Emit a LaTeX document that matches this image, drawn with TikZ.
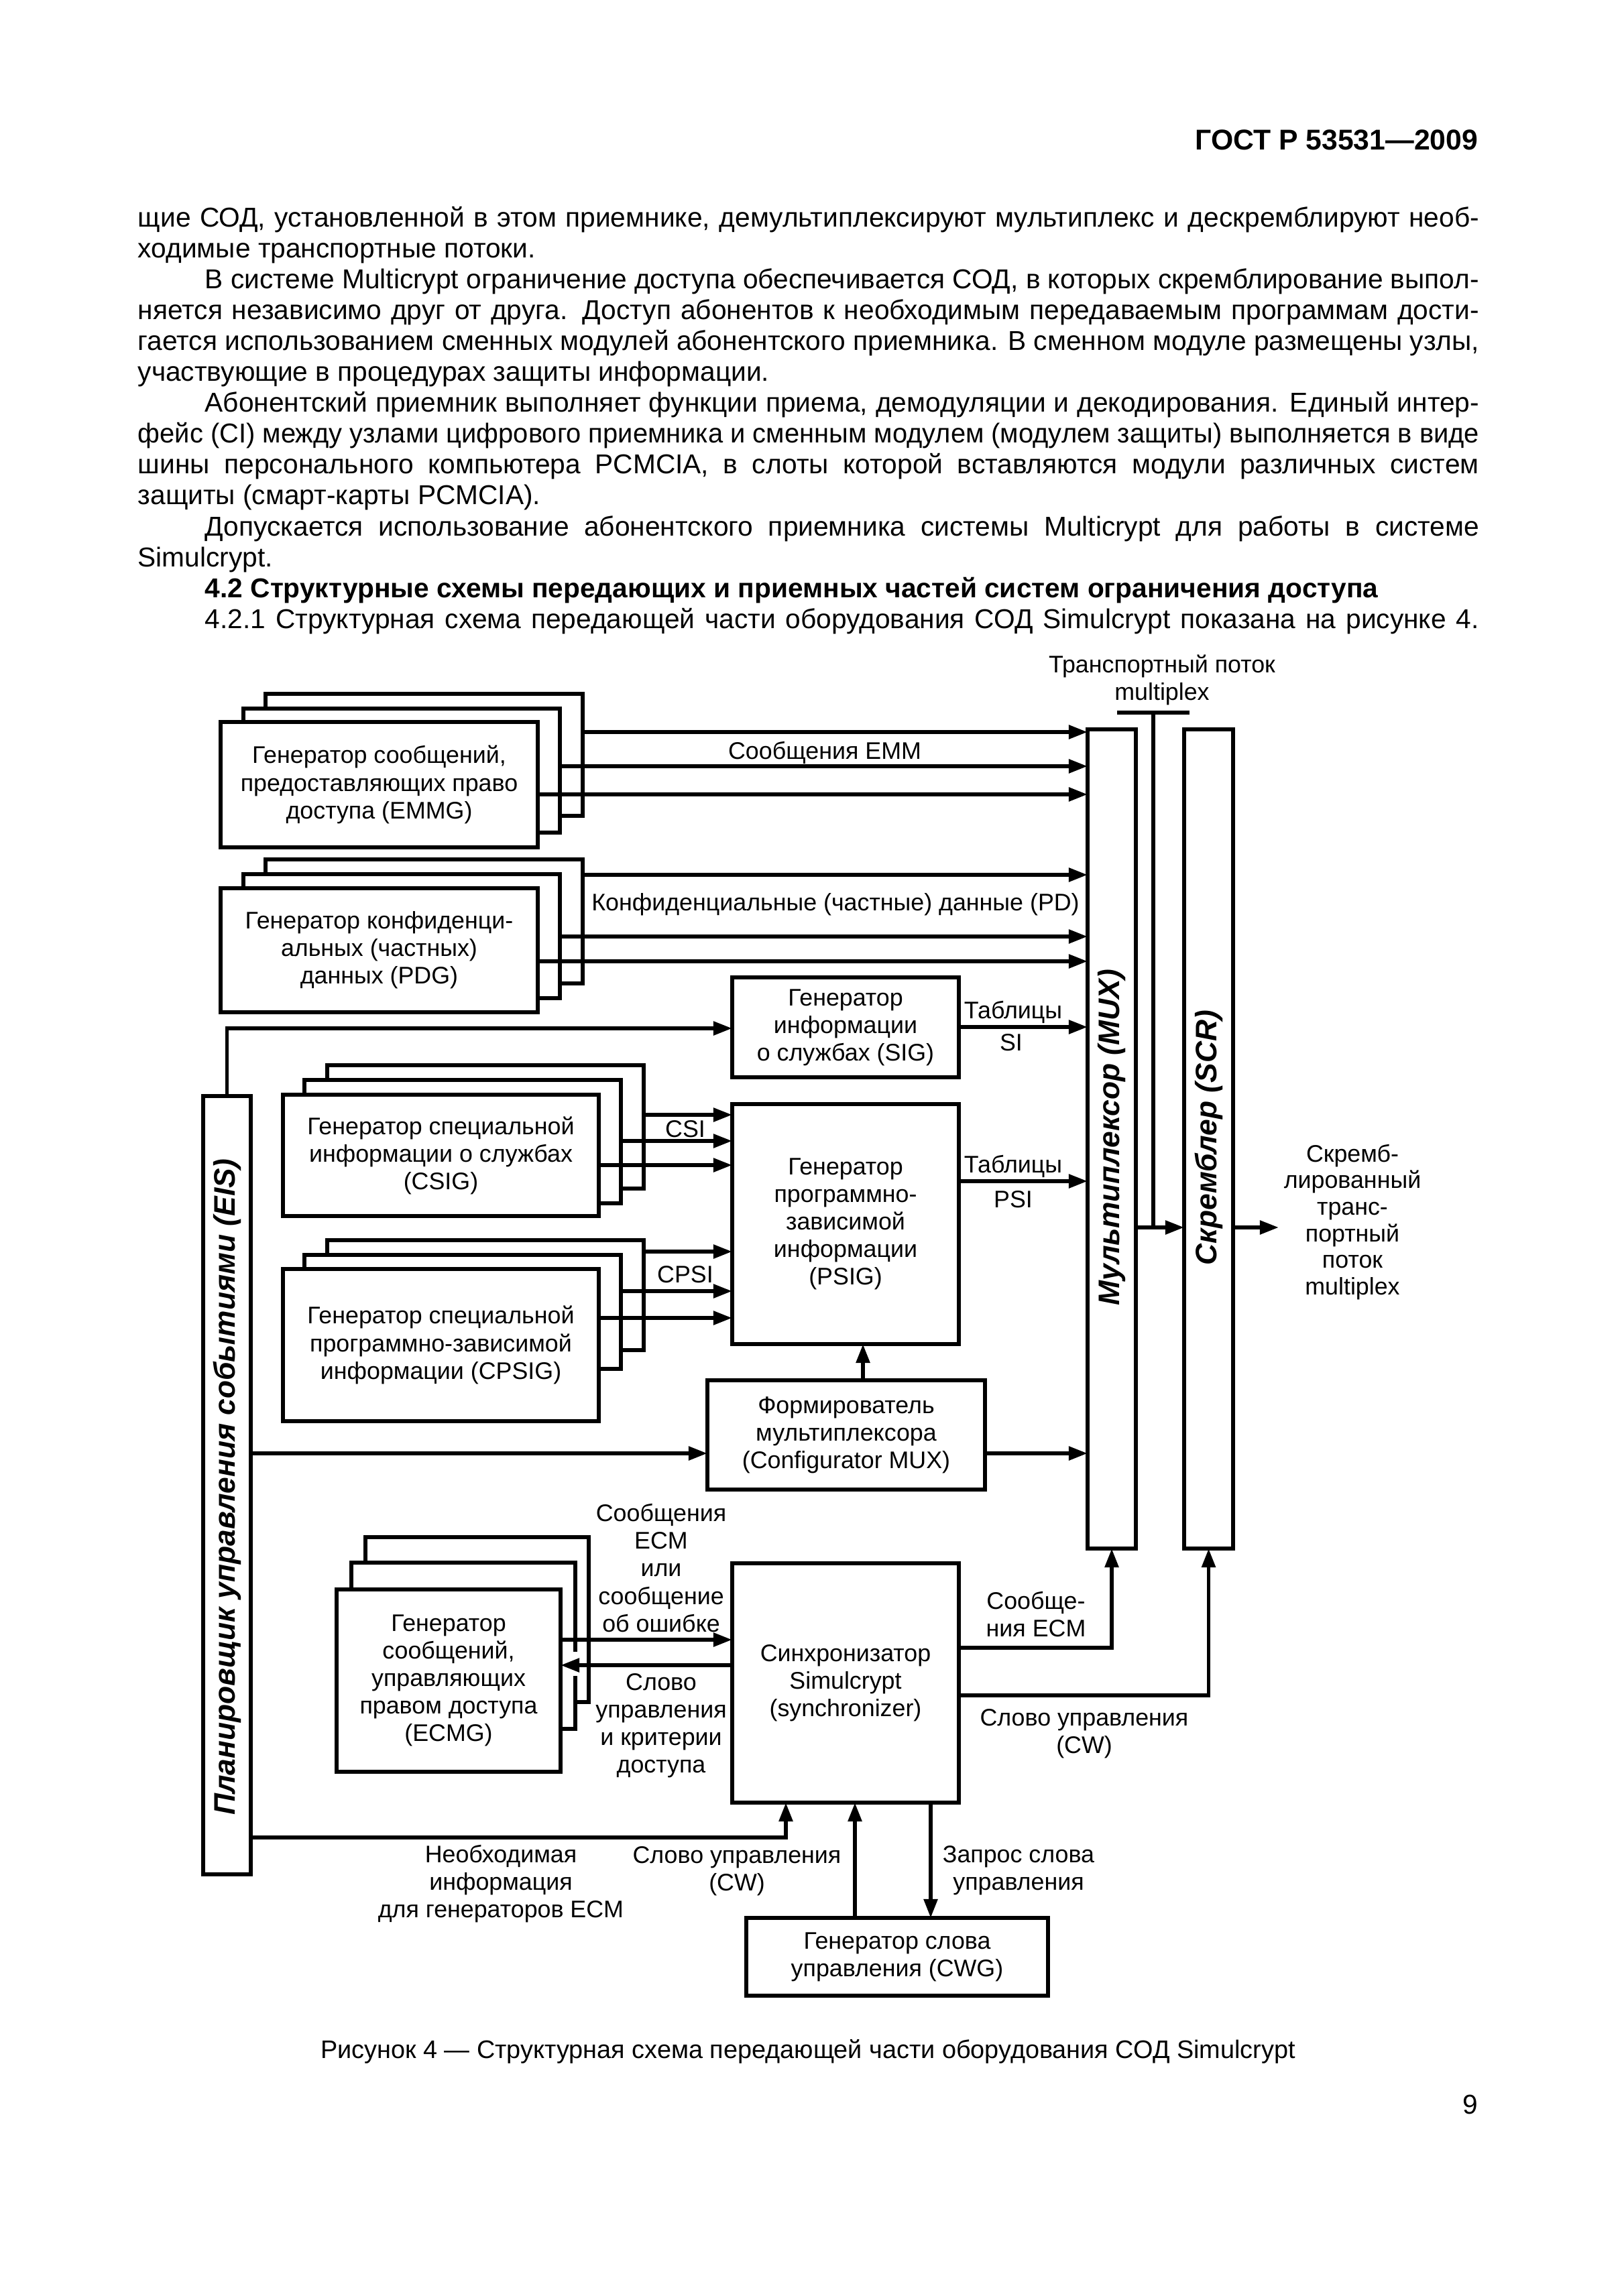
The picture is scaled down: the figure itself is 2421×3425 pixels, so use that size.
\documentclass[tikz,border=0pt]{standalone}
\usepackage{fontspec}
\usepackage{graphicx}
\setmainfont{Liberation Sans}
\usetikzlibrary{arrows.meta}
\newlength\pxl \setlength\pxl{0.245807pt}
\newcommand\bodyfont{\fontsize{10}{11.3}\selectfont}
\newcommand\diagfont{\fontsize{8.8}{10.1}\selectfont}
\newcommand\biglab{\fontsize{10.9}{13}\selectfont\bfseries\itshape}
\newcommand\jline[2]{\sbox0{#2}\ifdim\wd0>#1\relax\resizebox{#1}{\height}{\usebox0}\else\makebox[#1][s]{#2}\fi}
\newcommand\gbox[6]{\node[box, minimum width={(#4-(#2))*0.245807pt}, minimum height={(#5-(#3))*0.245807pt}] (#1) at ({(#2+#4)/2},{(#3+#5)/2}) {#6};}
\begin{document}
\begin{tikzpicture}[x=0.245807pt, y=-0.245807pt,
  lw/.style={line width=1.4pt},
  box/.style={draw, lw, fill=white, inner sep=0pt, outer sep=0pt, align=center, font=\diagfont},
  arr/.style={lw, -{Triangle[length=6.9pt,width=4.9pt]}},
  ln/.style={lw},
  lbl/.style={inner sep=0pt, align=center, font=\diagfont},
  body/.style={anchor=base west, inner sep=0pt, font=\bodyfont},
  vlab/.style={rotate=90, inner sep=0pt, font=\biglab}]
\fill[white] (0,0) rectangle (2421,3425);
\useasboundingbox (0,0) rectangle (2421,3425);

% ---------- header and text ----------
\node[anchor=base east, inner sep=0pt, font=\fontsize{10.5}{12}\selectfont\bfseries] (hdr) at (2205,224) {ГОСТ Р 53531—2009};
\node[body] (t1) at (205,339) {\jline{2000\pxl}{щие СОД, установленной в этом приемнике, демультиплексируют мультиплекс и дескремблируют необ-}};
\node[body] (t2) at (205,385) {ходимые транспортные потоки.};
\node[body] (t3) at (305,431) {\jline{1900\pxl}{В системе Multicrypt ограничение доступа обеспечивается СОД, в которых скремблирование выпол-}};
\node[body] (t4) at (205,477) {\jline{2000\pxl}{няется независимо друг от друга. Доступ абонентов к необходимым передаваемым программам дости-}};
\node[body] (t5) at (205,523) {\jline{2000\pxl}{гается использованием сменных модулей абонентского приемника. В сменном модуле размещены узлы,}};
\node[body] (t6) at (205,569) {участвующие в процедурах защиты информации.};
\node[body] (t7) at (305,615) {\jline{1900\pxl}{Абонентский приемник выполняет функции приема, демодуляции и декодирования. Единый интер-}};
\node[body] (t8) at (205,661) {\jline{2000\pxl}{фейс (CI) между узлами цифрового приемника и сменным модулем (модулем защиты) выполняется в виде}};
\node[body] (t9) at (205,707) {\jline{2000\pxl}{шины персонального компьютера PCMCIA, в слоты которой вставляются модули различных систем}};
\node[body] (t10) at (205,753) {защиты (смарт-карты PCMCIA).};
\node[body] (t11) at (305,799) {\jline{1900\pxl}{Допускается использование абонентского приемника системы Multicrypt для работы в системе}};
\node[body] (t12) at (205,845) {Simulcrypt.};
\node[body, font=\bodyfont\bfseries] (t13) at (305,891) {4.2 Структурные схемы передающих и приемных частей систем ограничения доступа};
\node[body] (t14) at (305,937) {\jline{1900\pxl}{4.2.1 Структурная схема передающей части оборудования СОД Simulcrypt показана на рисунке 4.}};

% ---------- boxes ----------
\gbox{emmgC}{396}{1035}{869}{1217}{}
\gbox{emmgB}{363}{1057}{835}{1242}{}
\gbox{emmgA}{329}{1077}{802}{1264}{Генератор сообщений,\\предоставляющих право\\доступа (EMMG)}
\gbox{pdgC}{396}{1282}{869}{1467}{}
\gbox{pdgB}{363}{1304}{835}{1489}{}
\gbox{pdgA}{329}{1325}{802}{1510}{Генератор конфиденци-\\альных (частных)\\данных (PDG)}
\gbox{sig}{1092}{1458}{1430}{1607}{Генератор\\информации\\о службах (SIG)}
\gbox{csigC}{488}{1589}{960}{1773}{}
\gbox{csigB}{454}{1611}{926}{1795}{}
\gbox{csigA}{422}{1633}{893}{1814}{Генератор специальной\\информации о службах\\(CSIG)}
\gbox{psig}{1092}{1647}{1430}{2005}{Генератор\\программно-\\зависимой\\информации\\(PSIG)}
\gbox{cpsigC}{488}{1850}{960}{2014}{}
\gbox{cpsigB}{454}{1872}{926}{2042}{}
\gbox{cpsigA}{422}{1893}{893}{2120}{Генератор специальной\\программно-зависимой\\информации (CPSIG)}
\gbox{config}{1055}{2059}{1469}{2222}{Формирователь\\мультиплексора\\(Configurator MUX)}
\gbox{mux}{1622}{1088}{1694}{2310}{}
\gbox{scr}{1766}{1088}{1839}{2310}{}
\gbox{eis}{303}{1635}{374}{2796}{}
\gbox{ecmgC}{545}{2293}{878}{2539}{}
\gbox{ecmgB}{524}{2331}{858}{2579}{}
\gbox{ecmgA}{502}{2371}{836}{2643}{Генератор\\сообщений,\\управляющих\\правом доступа\\(ECMG)}
\gbox{sync}{1092}{2332}{1430}{2689}{Синхронизатор\\Simulcrypt\\(synchronizer)}
\gbox{cwg}{1113}{2861}{1563}{2977}{Генератор слова\\управления (CWG)}

\node[vlab] (muxl) at (1658,1697) {Мультиплексор (MUX)};
\node[vlab] (scrl) at (1803,1697) {Скремблер (SCR)};
\node[vlab] (eisl) at (339,2218) {Планировщик управления событиями (EIS)};

% ---------- level coordinates ----------
\coordinate (yE1) at (0,1092);
\coordinate (yE2) at (0,1143);
\coordinate (yE3) at (0,1185);
\coordinate (yP1) at (0,1305);
\coordinate (yP2) at (0,1397);
\coordinate (yP3) at (0,1434);
\coordinate (ySig) at (0,1534);
\coordinate (ySI) at (0,1532);
\coordinate (yC1) at (0,1663);
\coordinate (yC2) at (0,1702);
\coordinate (yC3) at (0,1738);
\coordinate (yPSI) at (0,1762);
\coordinate (yD1) at (0,1867);
\coordinate (yD2) at (0,1926);
\coordinate (yD3) at (0,1966);
\coordinate (xCfg) at (1287,0);
\coordinate (yCfg) at (0,2168);
\coordinate (yOut) at (0,1831);
\coordinate (yK1) at (0,2446);
\coordinate (yK2) at (0,2484);
\coordinate (yEcm) at (0,2458);
\coordinate (yCw) at (0,2529);
\coordinate (yInf) at (0,2741);
\coordinate (xInf) at (1172,0);
\coordinate (xCw) at (1275,0);
\coordinate (xReq) at (1388,0);
\coordinate (mxL) at (1666,1063);
\coordinate (mxR) at (1774,1063);
\coordinate (mxM) at (1720,1063);
\coordinate (outEnd) at (1907,1831);

% ---------- connectors ----------
\draw[arr] (emmgC.east |- yE1) -- (mux.west |- yE1);
\draw[arr] (emmgB.east |- yE2) -- (mux.west |- yE2);
\draw[arr] (emmgA.east |- yE3) -- (mux.west |- yE3);
\draw[arr] (pdgC.east |- yP1) -- (mux.west |- yP1);
\draw[arr] (pdgB.east |- yP2) -- (mux.west |- yP2);
\draw[arr] (pdgA.east |- yP3) -- (mux.west |- yP3);
\draw[arr] (eis.north) |- (sig.west |- ySig);
\draw[arr] (sig.east |- ySI) -- (mux.west |- ySI);
\draw[arr] (csigC.east |- yC1) -- (psig.west |- yC1);
\draw[arr] (csigB.east |- yC2) -- (psig.west |- yC2);
\draw[arr] (csigA.east |- yC3) -- (psig.west |- yC3);
\draw[arr] (psig.east |- yPSI) -- (mux.west |- yPSI);
\draw[arr] (cpsigC.east |- yD1) -- (psig.west |- yD1);
\draw[arr] (cpsigB.east |- yD2) -- (psig.west |- yD2);
\draw[arr] (cpsigA.east |- yD3) -- (psig.west |- yD3);
\draw[arr] (config.north -| xCfg) -- (psig.south -| xCfg);
\draw[arr] (eis.east |- yCfg) -- (config.west |- yCfg);
\draw[arr] (config.east |- yCfg) -- (mux.west |- yCfg);
\draw[ln] (mxL) -- (mxR);
\draw[ln] (mxM) -- (mxM |- yOut);
\draw[arr] (mux.east |- yOut) -- (scr.west |- yOut);
\draw[arr] (scr.east |- yOut) -- (outEnd);
\draw[arr] (ecmgA.east |- yK1) -- (sync.west |- yK1);
\fill[white] (851,2464) rectangle (864,2500);
\draw[arr] (sync.west |- yK2) -- (ecmgA.east |- yK2);
\draw[arr] (sync.east |- yEcm) -| (mux.south);
\draw[arr] (sync.east |- yCw) -| (scr.south);
\draw[arr] (eis.east |- yInf) -| (sync.south -| xInf);
\draw[arr] (cwg.north -| xCw) -- (sync.south -| xCw);
\draw[arr] (sync.south -| xReq) -- (cwg.north -| xReq);

% ---------- labels ----------
\node[lbl] (lEmm) at (1230,1123) {Сообщения EMM};
\node[lbl] (lPd) at (1246,1349) {Конфиденциальные (частные) данные (PD)};
\node[lbl] (lTab1) at (1511,1510) {Таблицы};
\node[lbl] (lSi) at (1508,1555) {SI};
\node[lbl] (lCsi) at (1022,1684) {CSI};
\node[lbl] (lTab2) at (1511,1740) {Таблицы};
\node[lbl] (lPsi) at (1511,1789) {PSI};
\node[lbl] (lCpsi) at (1022,1901) {CPSI};
\node[lbl] (lTs) at (1733,1014) {Транспортный поток\\multiplex};
\node[lbl, font=\fontsize{8.8}{9.75}\selectfont] (lOut) at (2017,1823) {Скремб-\\лированный\\транс-\\портный\\поток\\multiplex};
\node[lbl] (lEcm) at (986,2339) {Сообщения\\ECM\\или\\сообщение\\об ошибке};
\node[lbl] (lCwa) at (986,2574) {Слово\\управления\\и критерии\\доступа};
\node[lbl] (lEcm2) at (1545,2408) {Сообще-\\ния ECM};
\node[lbl] (lCw1) at (1617,2586) {Слово управления\\(CW)};
\node[lbl] (lInf) at (747,2810) {Необходимая\\информация\\для генераторов ECM};
\node[lbl] (lCw2) at (1099,2791) {Слово управления\\(CW)};
\node[lbl] (lReq) at (1519,2790) {Запрос слова\\управления};

% ---------- caption ----------
\node[anchor=base, inner sep=0pt, font=\fontsize{9.3}{11}\selectfont] (cap) at (1205,3070) {Рисунок 4 — Структурная схема передающей части оборудования СОД Simulcrypt};
\node[anchor=base east, inner sep=0pt, font=\bodyfont] (pg) at (2205,3153) {9};
\end{tikzpicture}
\end{document}
